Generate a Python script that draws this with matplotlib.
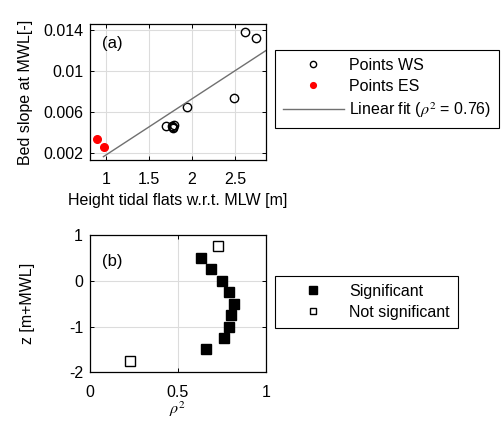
import matplotlib
matplotlib.use('Agg')
import matplotlib.pyplot as plt
import numpy as np

plt.rcParams['font.family'] = ['Liberation Sans', 'DejaVu Sans']
plt.rcParams['mathtext.fontset'] = 'stix'

# panel (a) data
ws_height = [2.62, 2.75, 2.49, 1.94, 1.70, 1.77, 1.78, 1.79, 1.78]
ws_slope = [0.01386, 0.01328, 0.00743, 0.00655, 0.00467, 0.00465, 0.00442, 0.00475, 0.00455]
es_height = [0.90, 0.98]
es_slope = [0.00337, 0.00265]
fit_slope = 0.00547
fit_intercept = -0.00363
fit_x = [0.97, 2.9]

# panel (b) data
sig_rho2 = [0.63, 0.69, 0.75, 0.79, 0.82, 0.80, 0.79, 0.76, 0.66]
sig_z = [0.5, 0.25, 0.0, -0.25, -0.5, -0.75, -1.0, -1.25, -1.5]
nsig_rho2 = [0.73, 0.23]
nsig_z = [0.75, -1.75]

W, H = 501, 424
FS = 11.5
fig = plt.figure(figsize=(W / 100, H / 100), dpi=100)

def style(ax):
    ax.grid(True, color='#dcdcdc', linewidth=0.8)
    ax.set_axisbelow(True)
    ax.tick_params(direction='in', top=True, right=True, labelsize=FS,
                   length=3, width=0.7)
    ax.tick_params(axis='x', pad=9)
    ax.tick_params(axis='y', pad=5)
    for s in ax.spines.values():
        s.set_linewidth(0.9)

def make_legend(ax, top_px):
    leg = fig.legend(*ax.get_legend_handles_labels(), loc='upper left',
                     bbox_to_anchor=(275 / W, 1 - top_px / H), bbox_transform=fig.transFigure,
                     fontsize=FS, fancybox=False, edgecolor='k', framealpha=1,
                     handlelength=3.8, handletextpad=0.35, borderaxespad=0,
                     borderpad=0.5, labelspacing=0.38, markerscale=0.75)
    leg.get_frame().set_linewidth(0.8)
    return leg

# ---- (a)
ax1 = fig.add_axes([90 / W, 1 - 160 / H, 175.7 / W, 136 / H])
style(ax1)
ax1.plot(ws_height, ws_slope, 'o', mfc='none', mec='k', ms=6, mew=1.0, label='Points WS')
ax1.plot(es_height, es_slope, 'o', mfc='red', mec='red', ms=5.5, label='Points ES')
fx = np.array(fit_x)
ax1.plot(fx, fit_slope * fx + fit_intercept, '-', color='#707070', lw=1.0,
         label='Linear fit ($\\rho^2$ = 0.76)')
ax1.set_xlim(0.814, 2.857)
ax1.set_ylim(0.00135, 0.0146)
ax1.set_xticks([1, 1.5, 2, 2.5])
ax1.set_xticklabels(['1', '1.5', '2', '2.5'])
ax1.set_yticks([0.002, 0.006, 0.01, 0.014])
ax1.set_yticklabels(['0.002', '0.006', '0.01', '0.014'])
ax1.set_xlabel('Height tidal flats w.r.t. MLW [m]', fontsize=FS, labelpad=4)
ax1.set_ylabel('Bed slope at MWL[-]', fontsize=FS, labelpad=7)
ax1.text(0.067, 0.86, '(a)', transform=ax1.transAxes, fontsize=12, va='center')
make_legend(ax1, 50)

# ---- (b)
ax2 = fig.add_axes([90 / W, 1 - 372.3 / H, 175.7 / W, 137.3 / H])
style(ax2)
ax2.plot(sig_rho2, sig_z, 's', mfc='k', mec='k', ms=7, label='Significant')
ax2.plot(nsig_rho2, nsig_z, 's', mfc='white', mec='k', ms=6.5, mew=1.0, label='Not significant')
ax2.set_xlim(0, 1)
ax2.set_ylim(-2, 1)
ax2.set_xticks([0, 0.5, 1])
ax2.set_xticklabels(['0', '0.5', '1'])
ax2.set_yticks([-2, -1, 0, 1])
ax2.set_yticklabels(['-2', '-1', '0', '1'])
ax2.set_xlabel('$\\rho^2$', fontsize=FS, labelpad=0)
ax2.set_ylabel('z [m+MWL]', fontsize=FS, labelpad=24)
ax2.text(0.067, 0.805, '(b)', transform=ax2.transAxes, fontsize=12, va='center')
make_legend(ax2, 276)

fig.savefig('out.png', dpi=100)
